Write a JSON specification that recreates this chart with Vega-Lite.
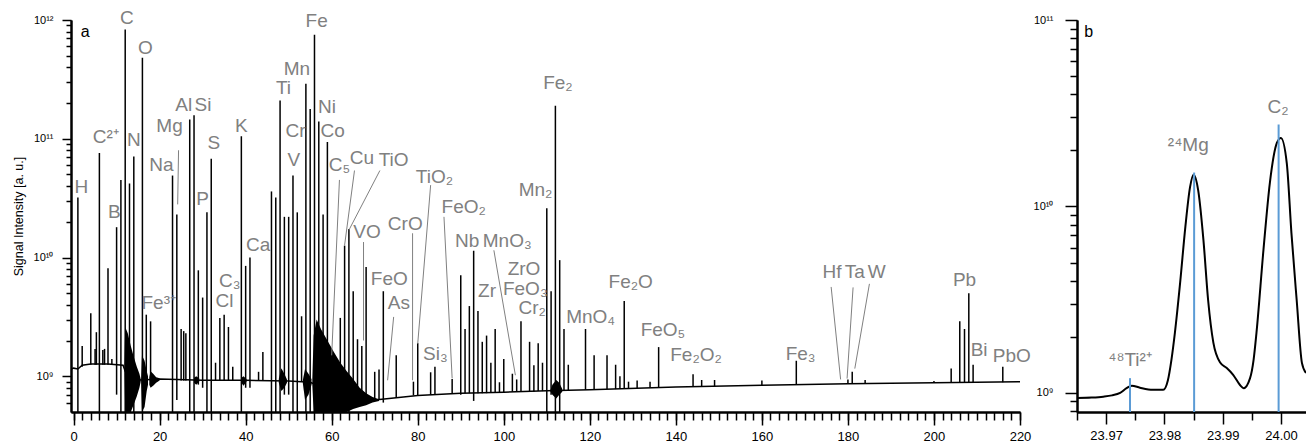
{
  "$schema": "https://vega.github.io/schema/vega-lite/v6.json",
  "padding": {"left": 12, "top": 9, "right": 0, "bottom": 0},
  "spacing": 2,
  "config": {
    "view": {"stroke": null},
    "axis": {"grid": false, "domain": true, "ticks": true, "domainColor": "black", "domainWidth": 2, "domainOpacity": 1, "tickColor": "black", "tickWidth": 1.5, "tickOpacity": 1, "zindex": 1, "labelFont": "Liberation Sans", "labelFontSize": 12, "labelColor": "black", "titleFont": "Liberation Sans", "titleFontWeight": "normal", "titleColor": "black", "titleFontSize": 12.5},
    "text": {"font": "Liberation Sans"}
  },
  "datasets": {
    "peaks": [
      {"m":1,"v":3.2e10,"lo":5e8},{"m":2,"v":1.8e9,"lo":1.2e9},{"m":4,"v":3.4e9,"lo":1.25e9},{"m":5,"v":1.7e9,"lo":1.25e9},{"m":5.3,"v":2.35e9,"lo":1.25e9},
      {"m":6,"v":7.6e10,"lo":5e8},{"m":6.8,"v":1.66e9,"lo":1.25e9},{"m":7.2,"v":1.7e9,"lo":1.25e9},{"m":8,"v":8.1e9,"lo":1.25e9},{"m":8.9,"v":1.4e9,"lo":1.25e9},
      {"m":10,"v":1.8e10,"lo":7e8},{"m":11,"v":4.5e10,"lo":5e8},{"m":12,"v":8.3e11,"lo":5e8},{"m":13,"v":4.2e10,"lo":5e8},{"m":14,"v":7.1e10,"lo":5e8},
      {"m":16,"v":4.8e11,"lo":5e8},{"m":16.9,"v":3.3e9,"lo":9.2e8},{"m":17.9,"v":2.9e9,"lo":9.2e8},{"m":23,"v":4.9e10,"lo":5e8},{"m":24,"v":2.3e10,"lo":6.3e8},
      {"m":25,"v":2.5e9,"lo":9.2e8},{"m":25.6,"v":2.4e9,"lo":9.2e8},{"m":26.1,"v":2.3e9,"lo":9.2e8},{"m":27,"v":1.45e11,"lo":5e8},{"m":28,"v":1.58e11,"lo":5e8},
      {"m":29,"v":7.8e9,"lo":8.5e8},{"m":30,"v":4.6e9,"lo":8e8},{"m":31,"v":2.4e10,"lo":5e8},{"m":32,"v":6.8e10,"lo":5e8},{"m":33,"v":1.3e9,"lo":9.2e8},
      {"m":34,"v":3.1e9,"lo":9.2e8},{"m":35,"v":3.3e9,"lo":9.2e8},{"m":36,"v":2.6e9,"lo":9.2e8},{"m":37,"v":1.2e9,"lo":9.2e8},{"m":39,"v":1.05e11,"lo":5e8},
      {"m":40,"v":8.5e9,"lo":8e8},{"m":41,"v":1.0e10,"lo":8e8},{"m":43,"v":1.09e9,"lo":9.2e8},{"m":44,"v":1.6e9,"lo":9.2e8},{"m":46,"v":3.6e10,"lo":5e8},
      {"m":47,"v":3.2e10,"lo":5e8},{"m":48,"v":2.1e11,"lo":5e8},{"m":49,"v":2.2e10,"lo":7e8},{"m":50,"v":2.2e10,"lo":7e8},{"m":51,"v":4.9e10,"lo":5e8},
      {"m":52,"v":2.4e10,"lo":5e8},{"m":53,"v":3.2e9,"lo":9e8},{"m":54,"v":2.9e11,"lo":5e8},{"m":55,"v":1.78e11,"lo":5e8},{"m":56,"v":7.5e11,"lo":5e8},
      {"m":57,"v":1.4e11,"lo":5e8},{"m":58,"v":2.3e10,"lo":5e8},{"m":59,"v":9.4e10,"lo":5e8},{"m":60,"v":1.4e9,"lo":7e8},{"m":62,"v":3.1e9,"lo":6e8},
      {"m":63,"v":1.26e10,"lo":5e8},{"m":64,"v":1.74e10,"lo":5e8},{"m":65,"v":5.2e9,"lo":6e8},{"m":66,"v":2.05e9,"lo":6e8},{"m":67,"v":1.8e9,"lo":6e8},
      {"m":68,"v":8.3e9,"lo":5.8e8},{"m":70,"v":1.09e9,"lo":6.3e8},{"m":71,"v":1.14e9,"lo":6.3e8},{"m":72,"v":5.2e9,"lo":6e8},{"m":75,"v":1.5e9,"lo":6.6e8},
      {"m":79,"v":9e8,"lo":6.9e8},{"m":80,"v":1.9e9,"lo":6.9e8},{"m":83,"v":1.08e9,"lo":7e8},{"m":84,"v":1.2e9,"lo":7e8},{"m":88,"v":9.5e8,"lo":7.1e8},
      {"m":90,"v":7.1e9,"lo":7e8},{"m":91,"v":2.5e9,"lo":7.2e8},{"m":92,"v":3.9e9,"lo":7.2e8},{"m":93,"v":1.14e10,"lo":6.2e8},{"m":94,"v":3.55e9,"lo":7.2e8},
      {"m":95,"v":1.95e9,"lo":7.2e8},{"m":96,"v":2.2e9,"lo":7.2e8},{"m":97,"v":1.3e9,"lo":7.3e8},{"m":98,"v":2.5e9,"lo":7.3e8},{"m":99,"v":8.9e8,"lo":7.3e8},
      {"m":100,"v":1.4e9,"lo":7.3e8},{"m":102,"v":1.05e9,"lo":7.4e8},{"m":103,"v":9.4e8,"lo":7.4e8},{"m":104,"v":2.9e9,"lo":7.4e8},{"m":106,"v":1.95e9,"lo":7.4e8},
      {"m":107,"v":1.24e9,"lo":7.4e8},{"m":108,"v":1.9e9,"lo":7.5e8},{"m":109,"v":1.3e9,"lo":7.5e8},{"m":110,"v":2.6e10,"lo":5e8},{"m":111,"v":5.2e9,"lo":7e8},
      {"m":112,"v":1.9e11,"lo":5e8},{"m":113,"v":9.5e9,"lo":5e8},{"m":114,"v":2.5e9,"lo":7.5e8},{"m":115,"v":1.25e9,"lo":7.6e8},{"m":119,"v":2.5e9,"lo":7.7e8},
      {"m":121,"v":1.5e9,"lo":7.7e8},{"m":124,"v":1.5e9,"lo":7.8e8},{"m":126,"v":1.25e9,"lo":7.8e8},{"m":127,"v":1.0e9,"lo":7.8e8},{"m":128,"v":4.3e9,"lo":7.8e8},
      {"m":129,"v":9e8,"lo":7.9e8},{"m":131,"v":9.2e8,"lo":7.9e8},{"m":134,"v":9e8,"lo":8e8},{"m":136,"v":1.76e9,"lo":8e8},{"m":144,"v":1.04e9,"lo":8.2e8},
      {"m":146,"v":9.3e8,"lo":8.2e8},{"m":149,"v":9.3e8,"lo":8.2e8},{"m":160,"v":9.2e8,"lo":8.4e8},{"m":168,"v":1.35e9,"lo":8.5e8},{"m":180,"v":9.4e8,"lo":8.65e8},
      {"m":181,"v":1.09e9,"lo":8.65e8},{"m":184,"v":9.3e8,"lo":8.7e8},{"m":200,"v":9.1e8,"lo":8.8e8},{"m":204,"v":1.16e9,"lo":8.8e8},{"m":206,"v":2.9e9,"lo":8.8e8},
      {"m":207.1,"v":2.5e9,"lo":8.8e8},{"m":208.1,"v":5.0e9,"lo":8.8e8},{"m":209.1,"v":1.25e9,"lo":8.8e8},{"m":216,"v":1.2e9,"lo":8.9e8}
    ],
    "base": [
      {"m":-0.5,"v":1.15e9},{"m":0,"v":1.17e9},{"m":1,"v":1.15e9},{"m":2,"v":1.24e9},{"m":4,"v":1.27e9},{"m":8,"v":1.27e9},{"m":11.5,"v":1.24e9},
      {"m":12,"v":1.1e9},{"m":15.5,"v":9.3e8},{"m":20,"v":9.5e8},{"m":30,"v":9.25e8},{"m":40,"v":9.25e8},{"m":50,"v":9.1e8},{"m":55,"v":8.9e8},
      {"m":58,"v":8e8},{"m":62,"v":7e8},{"m":66,"v":6.5e8},{"m":70,"v":6.3e8},{"m":75,"v":6.6e8},{"m":80,"v":6.9e8},{"m":90,"v":7.2e8},
      {"m":100,"v":7.35e8},{"m":110,"v":7.55e8},{"m":120,"v":7.7e8},{"m":140,"v":8.1e8},{"m":160,"v":8.4e8},{"m":180,"v":8.65e8},{"m":200,"v":8.8e8},{"m":220,"v":9.0e8}
    ],
    "noise": [
      {"seg":"A","m":11.8,"lo":1.24e9,"hi":1.24e9},{"seg":"A","m":12.0,"lo":5e8,"hi":2.6e9},{"seg":"A","m":12.6,"lo":5e8,"hi":2.3e9},{"seg":"A","m":13.3,"lo":5e8,"hi":1.8e9},
      {"seg":"A","m":14.0,"lo":5.8e8,"hi":1.45e9},{"seg":"A","m":14.7,"lo":6.8e8,"hi":1.2e9},{"seg":"A","m":15.3,"lo":8e8,"hi":1.05e9},{"seg":"A","m":15.6,"lo":9e8,"hi":9.5e8},
      {"seg":"B","m":15.7,"lo":9e8,"hi":9.5e8},{"seg":"B","m":15.9,"lo":5e8,"hi":1.5e9},{"seg":"B","m":16.5,"lo":5.5e8,"hi":1.35e9},{"seg":"B","m":17.0,"lo":7.5e8,"hi":1.1e9},{"seg":"B","m":17.3,"lo":8.5e8,"hi":1.0e9},
      {"seg":"C","m":17.6,"lo":8.5e8,"hi":9.8e8},{"seg":"C","m":17.9,"lo":8e8,"hi":1.1e9},{"seg":"C","m":18.5,"lo":8.3e8,"hi":1.05e9},{"seg":"C","m":19.2,"lo":8.8e8,"hi":9.8e8},{"seg":"C","m":20,"lo":9.2e8,"hi":9.6e8},
      {"seg":"D","m":28,"lo":8.8e8,"hi":9.7e8},{"seg":"D","m":28.5,"lo":8.5e8,"hi":1.0e9},{"seg":"D","m":29.2,"lo":9e8,"hi":9.6e8},
      {"seg":"E","m":39,"lo":8.8e8,"hi":9.7e8},{"seg":"E","m":39.5,"lo":8.3e8,"hi":1.0e9},{"seg":"E","m":40.2,"lo":9e8,"hi":9.5e8},
      {"seg":"F","m":47.7,"lo":8.8e8,"hi":9.5e8},{"seg":"F","m":48.3,"lo":7.5e8,"hi":1.17e9},{"seg":"F","m":49,"lo":8e8,"hi":1.05e9},{"seg":"F","m":49.6,"lo":8.8e8,"hi":9.4e8},
      {"seg":"G","m":53.3,"lo":8.7e8,"hi":9.3e8},{"seg":"G","m":53.8,"lo":6.3e8,"hi":1.15e9},{"seg":"G","m":54.6,"lo":7e8,"hi":1.05e9},{"seg":"G","m":55.3,"lo":8.5e8,"hi":9.5e8},
      {"seg":"H","m":55.5,"lo":8.5e8,"hi":9.5e8},{"seg":"H","m":55.8,"lo":5e8,"hi":2.2e9},{"seg":"H","m":56.5,"lo":5e8,"hi":3.0e9},{"seg":"H","m":57.5,"lo":5e8,"hi":2.5e9},
      {"seg":"H","m":59,"lo":5e8,"hi":2.0e9},{"seg":"H","m":60.5,"lo":5e8,"hi":1.6e9},{"seg":"H","m":62,"lo":5e8,"hi":1.3e9},{"seg":"H","m":63.5,"lo":5e8,"hi":1.1e9},
      {"seg":"H","m":65,"lo":5.3e8,"hi":9.5e8},{"seg":"H","m":66.5,"lo":5.5e8,"hi":8e8},{"seg":"H","m":68,"lo":5.7e8,"hi":7.2e8},{"seg":"H","m":69.5,"lo":6e8,"hi":6.7e8},{"seg":"H","m":71,"lo":6.2e8,"hi":6.4e8},
      {"seg":"I","m":110.8,"lo":7.5e8,"hi":7.6e8},{"seg":"I","m":111.3,"lo":7e8,"hi":8.5e8},{"seg":"I","m":112.2,"lo":6.5e8,"hi":9.3e8},{"seg":"I","m":112.9,"lo":7e8,"hi":8.8e8},{"seg":"I","m":113.6,"lo":7.4e8,"hi":7.8e8}
    ],
    "leaders": [
      {"m":24.4,"v":8.0e10,"m2":24.2,"v2":2.8e10},{"m":61.8,"v":4.5e10,"m2":60.0,"v2":1.5e9},{"m":65.3,"v":5.4e10,"m2":63.0,"v2":1.27e10},
      {"m":71.2,"v":5.4e10,"m2":64.0,"v2":1.7e10},{"m":67.4,"v":1.35e10,"m2":67.4,"v2":2.0e9},{"m":78.8,"v":1.6e10,"m2":78.8,"v2":9.25e8},
      {"m":83.0,"v":4.07e10,"m2":80.0,"v2":1.88e9},{"m":74.4,"v":3.16e9,"m2":73.0,"v2":9.25e8},{"m":86.1,"v":2.2e10,"m2":88.0,"v2":9.6e8},
      {"m":97.7,"v":1.15e10,"m2":102.7,"v2":1.02e9},{"m":176.1,"v":5.65e9,"m2":178.3,"v2":9.4e8},{"m":181.2,"v":5.6e9,"m2":179.8,"v2":9.57e8},
      {"m":185.0,"v":6.0e9,"m2":181.6,"v2":1.16e9}
    ],
    "labels": [
      {"m":1.8,"v":3.94e10,"t":"H"},{"m":7.5,"v":1.04e11,"t":"C²⁺"},{"m":9.5,"v":2.4e10,"t":"B"},{"m":12.4,"v":1.03e12,"t":"C"},{"m":14.0,"v":9.8e10,"t":"N"},
      {"m":16.7,"v":5.8e11,"t":"O"},{"m":19.8,"v":4.1e9,"t":"Fe³⁺"},{"m":20.4,"v":6.0e10,"t":"Na"},{"m":22.3,"v":1.28e11,"t":"Mg"},{"m":25.6,"v":1.92e11,"t":"Al"},
      {"m":30.1,"v":1.92e11,"t":"Si"},{"m":30.0,"v":3.08e10,"t":"P"},{"m":32.6,"v":9.2e10,"t":"S"},{"m":36.3,"v":6.4e9,"t":"C₃"},{"m":35.1,"v":4.3e9,"t":"Cl"},
      {"m":39.0,"v":1.28e11,"t":"K"},{"m":42.9,"v":1.27e10,"t":"Ca"},{"m":48.8,"v":2.7e11,"t":"Ti"},{"m":51.9,"v":3.9e11,"t":"Mn"},{"m":51.6,"v":1.16e11,"t":"Cr"},
      {"m":51.2,"v":6.6e10,"t":"V"},{"m":56.5,"v":9.8e11,"t":"Fe"},{"m":58.9,"v":1.86e11,"t":"Ni"},{"m":60.2,"v":1.16e11,"t":"Co"},{"m":61.8,"v":6.0e10,"t":"C₅"},
      {"m":67.0,"v":6.9e10,"t":"Cu"},{"m":74.4,"v":6.6e10,"t":"TiO"},{"m":83.9,"v":4.74e10,"t":"TiO₂"},{"m":90.7,"v":2.65e10,"t":"FeO₂"},{"m":68.2,"v":1.64e10,"t":"VO"},
      {"m":77.1,"v":1.93e10,"t":"CrO"},{"m":73.4,"v":6.56e9,"t":"FeO"},{"m":75.6,"v":4.15e9,"t":"As"},{"m":84.1,"v":1.55e9,"t":"Si₃"},{"m":91.5,"v":1.38e10,"t":"Nb"},
      {"m":100.8,"v":1.38e10,"t":"MnO₃"},{"m":104.7,"v":8.07e9,"t":"ZrO"},{"m":96.1,"v":5.24e9,"t":"Zr"},{"m":105.0,"v":5.48e9,"t":"FeO₃"},{"m":106.6,"v":3.79e9,"t":"Cr₂"},
      {"m":107.4,"v":3.69e10,"t":"Mn₂"},{"m":112.6,"v":2.92e11,"t":"Fe₂"},{"m":120.2,"v":3.16e9,"t":"MnO₄"},{"m":129.5,"v":6.2e9,"t":"Fe₂O"},{"m":137.0,"v":2.44e9,"t":"FeO₅"},
      {"m":144.7,"v":1.5e9,"t":"Fe₂O₂"},{"m":169.0,"v":1.55e9,"t":"Fe₃"},{"m":176.3,"v":7.57e9,"t":"Hf"},{"m":181.6,"v":7.57e9,"t":"Ta"},{"m":186.7,"v":7.57e9,"t":"W"},
      {"m":207.1,"v":6.44e9,"t":"Pb"},{"m":210.5,"v":1.66e9,"t":"Bi"},{"m":218.1,"v":1.48e9,"t":"PbO"}
    ],
    "tagA": [{"m":2.7,"v":7.87e11,"t":"a"}],
    "bcurve": [
      {"x":23.965,"v":9.4e8},{"x":23.9675,"v":9.45e8},{"x":23.9695,"v":9.55e8},{"x":23.971,"v":9.7e8},{"x":23.9724,"v":1.0e9},{"x":23.9735,"v":1.06e9},
      {"x":23.9744,"v":1.094e9},{"x":23.9758,"v":1.067e9},{"x":23.978,"v":1.04e9},{"x":23.9798,"v":1.04e9},{"x":23.9806,"v":1.17e9},{"x":23.9812,"v":1.5e9},
      {"x":23.9818,"v":2.1e9},{"x":23.9827,"v":3.9e9},{"x":23.9836,"v":7.8e9},{"x":23.9844,"v":1.27e10},{"x":23.985,"v":1.48e10},{"x":23.9858,"v":1.22e10},
      {"x":23.9867,"v":6.6e9},{"x":23.9875,"v":3.15e9},{"x":23.9884,"v":1.86e9},{"x":23.9896,"v":1.45e9},{"x":23.9907,"v":1.36e9},{"x":23.9918,"v":1.25e9},
      {"x":23.993,"v":1.1e9},{"x":23.9936,"v":1.06e9},{"x":23.9947,"v":1.2e9},{"x":23.9953,"v":1.5e9},{"x":23.9958,"v":2.1e9},{"x":23.997,"v":5.85e9},
      {"x":23.9981,"v":1.34e10},{"x":23.9993,"v":2.19e10},{"x":24.0,"v":2.33e10},{"x":24.001,"v":1.71e10},{"x":24.0018,"v":7.2e9},{"x":24.0027,"v":3.15e9},
      {"x":24.0036,"v":1.45e9},{"x":24.0043,"v":1.28e9}
    ],
    "blines": [{"x":23.9741,"v":1.2e9,"lo":7.9e8},{"x":23.9851,"v":1.52e10,"lo":7.9e8},{"x":23.9996,"v":2.75e10,"lo":7.9e8}],
    "blabels": [{"x":23.9741,"v":1.5e9,"t":"⁴⁸Ti²⁺"},{"x":23.9841,"v":2.14e10,"t":"²⁴Mg"},{"x":23.9995,"v":3.43e10,"t":"C₂"}],
    "tagB": [{"x":23.967,"v":8.6e10,"t":"b"}]
  },
  "hconcat": [
    {
      "width": 949,
      "height": 392,
      "layer": [
        {
          "data": {"name": "noise"},
          "mark": {"type": "area", "color": "#000", "clip": true},
          "encoding": {
            "x": {"field": "m", "type": "quantitative", "scale": {"domain": [-0.6, 220], "nice": false},
                  "axis": {"orient": "bottom", "values": [0,20,40,60,80,100,120,140,160,180,200,220], "domain": true, "ticks": true, "tickSize": 13, "labelPadding": 5, "labelFlush": false, "labelFontSize": 13, "title": null}},
            "y": {"field": "lo", "type": "quantitative", "scale": {"type": "log", "domain": [5e8, 1e12], "nice": false},
                  "axis": {"orient": "left", "values": [1e9, 1e10, 1e11, 1e12], "domain": true, "ticks": true, "tickSize": 9, "labelPadding": 9, "labelFontSize": 11,
                           "labelExpr": "datum.value == 1e9 ? '10⁹' : datum.value == 1e10 ? '10¹⁰' : datum.value == 1e11 ? '10¹¹' : '10¹²'",
                           "title": "Signal Intensity [a. u.]", "titlePadding": 8}},
            "y2": {"field": "hi"},
            "detail": {"field": "seg"}
          }
        },
        {
          "data": {"name": "base"},
          "mark": {"type": "line", "color": "#000", "strokeWidth": 1.5, "clip": true},
          "encoding": {
            "x": {"field": "m", "type": "quantitative",
                  "axis": {"orient": "bottom", "values": [0,2,4,6,8,10,12,14,16,18,20,22,24,26,28,30,32,34,36,38,40,42,44,46,48,50,52,54,56,58,60,62,64,66,68,70,72,74,76,78,80,82,84,86,88,90,92,94,96,98,100,102,104,106,108,110,112,114,116,118,120,122,124,126,128,130,132,134,136,138,140,142,144,146,148,150,152,154,156,158,160,162,164,166,168,170,172,174,176,178,180,182,184,186,188,190,192,194,196,198,200,202,204,206,208,210,212,214,216,218,220], "domain": true, "ticks": true, "tickSize": 8, "labels": false, "title": null}},
            "y": {"field": "v", "type": "quantitative",
                  "axis": {"orient": "left", "values": [6e8,7e8,8e8,9e8,2e9,3e9,4e9,5e9,6e9,7e9,8e9,9e9,2e10,3e10,4e10,5e10,6e10,7e10,8e10,9e10,2e11,3e11,4e11,5e11,6e11,7e11,8e11,9e11], "domain": true, "ticks": true, "tickSize": 5, "labels": false, "title": null}}
          }
        },
        {
          "data": {"name": "peaks"},
          "mark": {"type": "rule", "color": "#000", "strokeWidth": 1.5, "clip": true},
          "encoding": {
            "x": {"field": "m", "type": "quantitative", "axis": null},
            "y": {"field": "v", "type": "quantitative", "axis": null},
            "y2": {"field": "lo"}
          }
        },
        {
          "data": {"name": "leaders"},
          "mark": {"type": "rule", "color": "#808080", "strokeWidth": 1},
          "encoding": {
            "x": {"field": "m", "type": "quantitative", "axis": null},
            "y": {"field": "v", "type": "quantitative", "axis": null},
            "x2": {"field": "m2"},
            "y2": {"field": "v2"}
          }
        },
        {
          "data": {"name": "labels"},
          "mark": {"type": "text", "color": "#808080", "fontSize": 19, "font": "Liberation Sans", "align": "center", "baseline": "middle"},
          "encoding": {
            "x": {"field": "m", "type": "quantitative", "axis": null},
            "y": {"field": "v", "type": "quantitative", "axis": null},
            "text": {"field": "t"}
          }
        },
        {
          "data": {"name": "tagA"},
          "mark": {"type": "text", "color": "#000", "fontSize": 16, "font": "Liberation Sans", "align": "center", "baseline": "middle"},
          "encoding": {
            "x": {"field": "m", "type": "quantitative", "axis": null},
            "y": {"field": "v", "type": "quantitative", "axis": null},
            "text": {"field": "t"}
          }
        }
      ],
      "resolve": {"axis": {"x": "independent", "y": "independent"}}
    },
    {
      "width": 229,
      "height": 392,
      "layer": [
        {
          "data": {"name": "bcurve"},
          "mark": {"type": "line", "color": "#000", "strokeWidth": 2, "interpolate": "monotone", "clip": true},
          "encoding": {
            "x": {"field": "x", "type": "quantitative", "scale": {"domain": [23.965, 24.0043], "nice": false, "zero": false},
                  "axis": {"orient": "bottom", "values": [23.97, 23.98, 23.99, 24.0], "format": ".2f", "domain": true, "ticks": true, "tickSize": 12, "labelPadding": 5, "labelFlush": false, "labelFontSize": 13, "title": null}},
            "y": {"field": "v", "type": "quantitative", "scale": {"type": "log", "domain": [7.9e8, 1e11], "nice": false},
                  "axis": {"orient": "left", "values": [1e9, 1e10, 1e11], "domain": true, "ticks": true, "tickSize": 12, "labelPadding": 12, "labelFontSize": 11,
                           "labelExpr": "datum.value == 1e9 ? '10⁹' : datum.value == 1e10 ? '10¹⁰' : '10¹¹'", "title": null}}
          }
        },
        {
          "data": {"name": "blines"},
          "mark": {"type": "rule", "color": "#5b9bd5", "strokeWidth": 2},
          "encoding": {
            "x": {"field": "x", "type": "quantitative",
                  "axis": {"orient": "bottom", "values": [23.965, 23.975, 23.985, 23.995], "domain": true, "ticks": true, "tickSize": 8, "labels": false, "title": null}},
            "y": {"field": "v", "type": "quantitative",
                  "axis": {"orient": "left", "values": [8e8,9e8,2e9,3e9,4e9,5e9,6e9,7e9,8e9,9e9,2e10,3e10,4e10,5e10,6e10,7e10,8e10,9e10], "domain": true, "ticks": true, "tickSize": 7, "labels": false, "title": null}},
            "y2": {"field": "lo"}
          }
        },
        {
          "data": {"name": "blabels"},
          "mark": {"type": "text", "color": "#808080", "fontSize": 19, "font": "Liberation Sans", "align": "center", "baseline": "middle"},
          "encoding": {
            "x": {"field": "x", "type": "quantitative", "axis": null},
            "y": {"field": "v", "type": "quantitative", "axis": null},
            "text": {"field": "t"}
          }
        },
        {
          "data": {"name": "tagB"},
          "mark": {"type": "text", "color": "#000", "fontSize": 16, "font": "Liberation Sans", "align": "center", "baseline": "middle"},
          "encoding": {
            "x": {"field": "x", "type": "quantitative", "axis": null},
            "y": {"field": "v", "type": "quantitative", "axis": null},
            "text": {"field": "t"}
          }
        }
      ],
      "resolve": {"axis": {"x": "independent", "y": "independent"}}
    }
  ]
}
